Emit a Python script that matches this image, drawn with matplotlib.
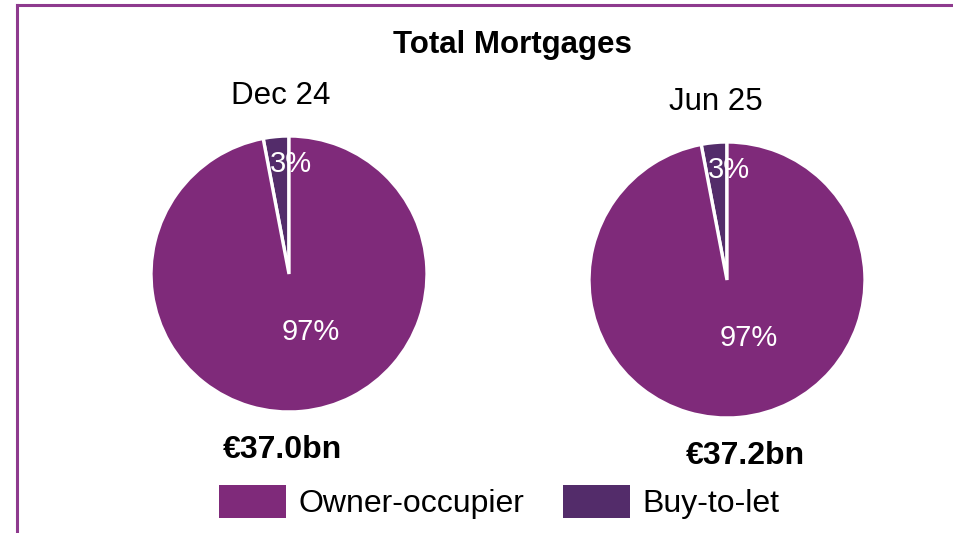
import matplotlib.pyplot as plt
from matplotlib.patches import Patch
from matplotlib.lines import Line2D

plt.rcParams['font.family'] = ['Liberation Sans', 'DejaVu Sans']

# mortgage book split by type, per period
periods = ['Dec 24', 'Jun 25']
totals = ['€37.0bn', '€37.2bn']
segments = ['Buy-to-let', 'Owner-occupier']
shares = {
    'Dec 24': [3, 97],
    'Jun 25': [3, 97],
}
colors = {'Owner-occupier': '#7f2a7a', 'Buy-to-let': '#532c6a'}

W, H = 954, 533
fig = plt.figure(figsize=(W / 100, H / 100), dpi=100)

# pie centres / radius in pixels
centres = [(289, 274), (727, 280)]
radius = 138
# percentage label offsets (in pie radii) for each wedge
pct_pos = [(0.015, 0.74), (0.16, -0.48)]

def fx(x):
    return x / W

def fy(y):
    return 1 - y / H

for period, total, (cx, cy) in zip(periods, totals, centres):
    ax = fig.add_axes([fx(cx - radius), fy(cy + radius),
                       2 * radius / W, 2 * radius / H])
    vals = shares[period]
    ax.pie(vals, colors=[colors[s] for s in segments], startangle=90,
           counterclock=True, radius=1,
           wedgeprops=dict(edgecolor='white', linewidth=2.4))
    for v, (px, py) in zip(vals, pct_pos):
        ax.text(px, py, f'{v:.0f}%', color='white', fontsize=21,
                ha='center', va='baseline')
    ax.set_xlim(-1, 1)
    ax.set_ylim(-1, 1)
    ax.set_aspect('equal')
    ax.axis('off')

    fig.text(fx(cx - 8 if period == 'Dec 24' else cx - 11), fy(cy - 170),
             period, fontsize=22.5, ha='center', va='baseline')
    fig.text(fx(cx - 7 if period == 'Dec 24' else cx + 18), fy(cy + 184),
             total, fontsize=23, fontweight='bold', ha='center', va='baseline')

fig.text(fx(512), fy(53), 'Total Mortgages', fontsize=22.5,
         fontweight='bold', ha='center', va='baseline')

# frame lines on the left and top
fig.add_artist(Line2D([fx(17), fx(17)], [0, fy(5)], color='#8e3a8e', lw=2.2,
                      transform=fig.transFigure))
fig.add_artist(Line2D([fx(17), 1], [fy(5), fy(5)], color='#8e3a8e', lw=2.2,
                      transform=fig.transFigure))

handles = [Patch(facecolor=colors['Owner-occupier'], label='Owner-occupier'),
           Patch(facecolor=colors['Buy-to-let'], label='Buy-to-let')]
fig.legend(handles=handles, loc='center', bbox_to_anchor=(fx(499), fy(502)),
           ncol=2, frameon=False, fontsize=23, handlelength=2.1,
           handleheight=1.2, handletextpad=0.4, columnspacing=1.2)

fig.savefig('out.png', dpi=100)
